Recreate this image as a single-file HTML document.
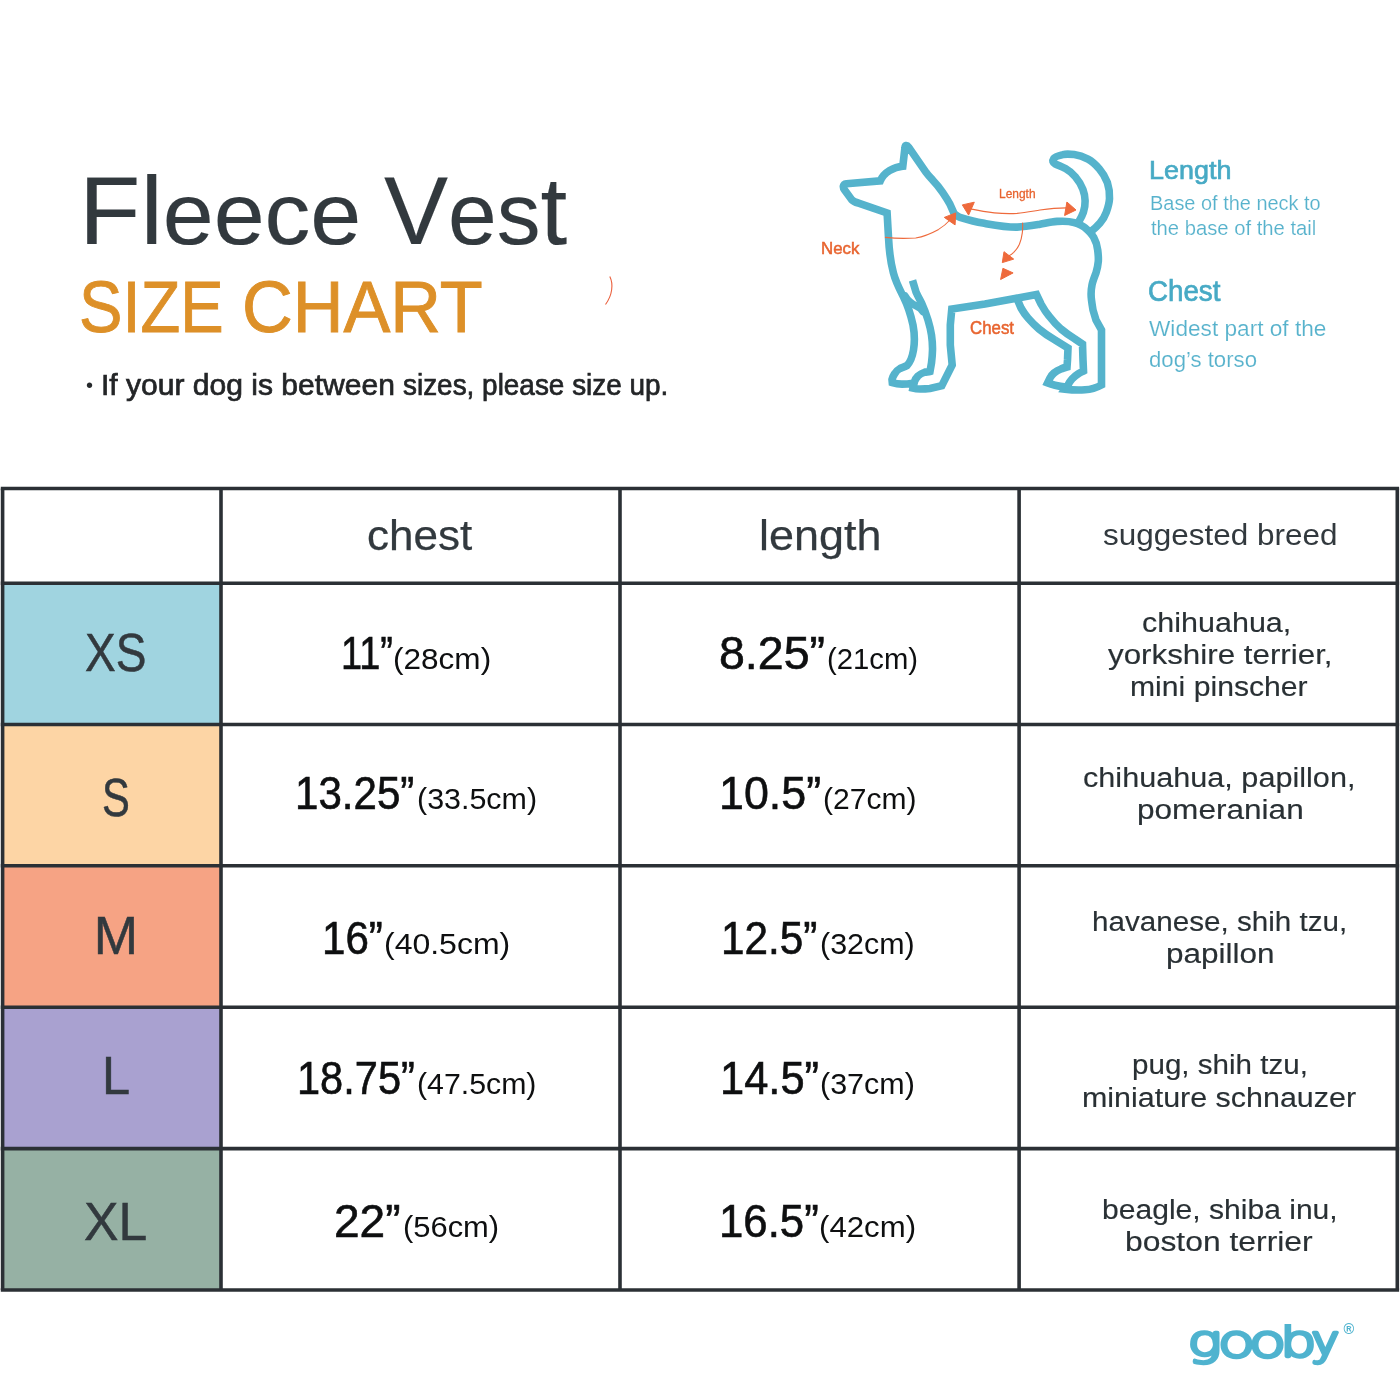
<!DOCTYPE html>
<html lang="en">
<head>
<meta charset="utf-8">
<title>Fleece Vest Size Chart</title>
<style>
html,body{margin:0;padding:0;background:#fff}
body{width:1400px;height:1400px;position:relative;overflow:hidden;font-family:"Liberation Sans",sans-serif;color:#343c41}
.t{position:absolute;display:block;white-space:nowrap;line-height:1;transform-origin:0 0;margin:0;padding:0;font-weight:400}
.t span{line-height:1}
svg{position:absolute;left:0;top:0;overflow:visible}
</style>
</head>
<body>
<svg class="grid" width="1400" height="1400" viewBox="0 0 1400 1400">
<rect x="2.6" y="583.2" width="218.4" height="141.3" fill="#a0d4e0"/>
<rect x="2.6" y="724.5" width="218.4" height="141.3" fill="#fdd5a5"/>
<rect x="2.6" y="865.8" width="218.4" height="141.4" fill="#f6a384"/>
<rect x="2.6" y="1007.2" width="218.4" height="141.4" fill="#a9a1d0"/>
<rect x="2.6" y="1148.6" width="218.4" height="141.4" fill="#96b1a4"/>
<g stroke="#2b3035" stroke-width="3.6">
<line x1="0.8" y1="488.5" x2="1399.1" y2="488.5"/>
<line x1="0.8" y1="583.2" x2="1399.1" y2="583.2"/>
<line x1="0.8" y1="724.5" x2="1399.1" y2="724.5"/>
<line x1="0.8" y1="865.8" x2="1399.1" y2="865.8"/>
<line x1="0.8" y1="1007.2" x2="1399.1" y2="1007.2"/>
<line x1="0.8" y1="1148.6" x2="1399.1" y2="1148.6"/>
<line x1="0.8" y1="1290.0" x2="1399.1" y2="1290.0"/>
<line x1="2.6" y1="488.5" x2="2.6" y2="1290.0"/>
<line x1="221.0" y1="488.5" x2="221.0" y2="1290.0"/>
<line x1="620.0" y1="488.5" x2="620.0" y2="1290.0"/>
<line x1="1019.1" y1="488.5" x2="1019.1" y2="1290.0"/>
<line x1="1397.3" y1="488.5" x2="1397.3" y2="1290.0"/>
</g></svg>
<svg class="dog" width="1400" height="1400" viewBox="0 0 1400 1400" role="img" aria-label="Dog measuring diagram">
<g fill="none" stroke="#55b3cc" stroke-width="7.6" stroke-linejoin="miter" stroke-linecap="butt" stroke-miterlimit="4">
<path d="M913,383.2 C909,383.8 906,384.1 902,384.1 C899,384.1 895.5,383.6 892.3,382.6 L892,379.5 C892.3,378 893,376.2 894.5,374 C895.8,371.8 897.5,369.8 900,368.5 C902,367.6 904.5,367.2 907,365.5 C910,362.5 912.5,356 913.5,350 C915,341 914.5,333 913,325 C911,316 908,306 904,298 C901,292 896,283 893.4,272.9 C890.5,262 889,248 888.5,237.4 L887.1,212.9 L858.6,203.1 C856,202.4 853.5,201.8 851.7,199.7 L844.6,190 C842.8,187.5 842.5,184.2 846.5,183.7 L880.3,180.9 C884,172 894,167 902.8,166.3 L904.9,148.2 C905,145 906.8,144.6 908.6,147.2 L926,172.3 C928,175 930.5,177.7 932.9,180.3 C936.5,184 940,188.5 942.6,192.3 C945.5,196.5 948,200.5 950,204.3 L954,213.4 C956,215 958,216.8 960,217.4 C967,219.5 975,221.8 982.9,223.1 C994,225 1006,227.3 1017.1,227.1 C1025,227 1033,225.5 1040,224.3 C1046,223.2 1051,221.8 1057.1,221.4 C1063,221 1069,221 1074.3,222.6 C1079,224 1083,225.8 1085.7,228.3 C1089.5,231.5 1092,234 1093.7,237.4 C1096,241.5 1097.2,245.5 1097.7,250 C1098.2,254 1098.6,257.5 1098.3,261.4 C1098,265 1097.2,269 1096,272.9 C1094.5,277 1092.8,281 1092,285 C1091,290 1090.8,295 1091.5,300 C1092,304 1092.5,307 1093,310 L1096,320 L1101.5,330 L1101.5,385 C1096,388 1090,389.5 1085,389.8 C1079,390.2 1072,390 1065,389.2 L1068,385 C1069,383 1070.4,380.8 1072,379 C1073.8,377 1075.8,375.4 1078,374 C1079.8,372.8 1081.5,372 1083.5,371 L1083,360 L1082.5,344 L1075,339 C1070,336 1065.5,332.8 1061,329 C1056.5,325 1052.5,320.5 1049,316 C1046,312.5 1043.5,308.5 1041,304 L1036.5,294.5 L1015,298.5 L985,304 L951.8,309 L950.3,325 L950.3,345 L952.2,365 L941.8,385.8 L930,388.5 C926.5,388.9 923.5,389 920,389 C917.5,389 915.5,388.9 913,388.2 L914.5,381.5 C915.2,379.5 916.4,377.6 918,376 C919.6,374.6 921.5,373.3 924,372.5 C926,371.8 928,372 930,371.5 L931.5,363 C932,359 932.4,354.5 932.5,350 C932.6,345 932.2,340 931.5,335 C930.8,330 929.5,325 928,320 C926.3,314.5 924.3,309 922,304 C920,300 918,296.5 916,292 L912.5,280.3"/>
<path stroke-linecap="round" d="M905,296 C908.5,302.5 913.5,304.8 917,306.3 C919.8,307.6 921.5,309 923,311.5"/>
<path d="M1016.5,297.5 L1021,308 C1023,311.5 1025.3,315 1028,318 C1031.3,321.8 1035,325.6 1039,329 C1044,333.2 1049.5,336.8 1055,340 L1068,348 L1067.5,360 L1067,367 C1065,367.5 1063,368 1061,369 C1058.2,370 1056,371.3 1054,373 C1052.2,374.5 1051,376.2 1050,378 L1047.6,383 C1050.3,384 1052.5,384.6 1055,385.2 C1058.3,386 1061.5,386.6 1066,387"/>
<path stroke-linejoin="round" d="M1091.4,231.1 C1095,228.5 1097.5,226 1100,223.1 C1103,219.5 1105,216 1106.3,212.3 C1108,207.5 1109.3,203 1109.5,198.6 C1109.8,193 1109,187.5 1107.4,182.6 C1105.5,177.5 1103,173 1099.4,168.9 C1096,165 1092.5,161.5 1088,159.1 C1084,157 1079,155.2 1074.3,154.6 C1070,154 1066,153.8 1062.9,154.6 C1059,155.5 1055,156.5 1053.7,158.6 C1052,161 1053,162.8 1054.9,163.7 C1058,165.2 1062,166.8 1065.1,168.3 C1069,170.5 1072.5,173.5 1075.4,176.9 C1078.5,180.5 1081.2,185 1082.9,189.4 C1084.3,193 1085,197 1085.1,200.9 C1085.2,205 1084.6,208.7 1083.4,212.3 C1082.3,215.5 1080.7,218.5 1078.9,221.4"/>
</g>
<g fill="none" stroke="#ee6a3c" stroke-width="1.1" stroke-linecap="round">
<path d="M885.4,237.4 C896,238.6 906,238.6 915.7,238 C924,236.5 931.5,233.3 938.6,229.4 C943.5,226.5 947.5,222.8 951,219"/>
<path d="M970.3,208.9 C978,210.5 986,212 994.3,212.9 C1002,213.6 1009.5,213.8 1017.1,213.4 C1025,212.7 1032.5,211.2 1040,210 C1049,208.8 1057.5,208 1066.3,207.9"/>
<path d="M1022.6,223.1 C1022.8,226.5 1022.7,229.7 1022.3,232.9 C1021.8,237 1020.8,240.8 1019.4,244.3 C1018,247.5 1016,250 1013.7,252.3 C1012.3,253.6 1010.8,254.8 1009.1,255.7"/>
</g>
<g fill="#ee6a3c" stroke="#ee6a3c" stroke-width="1" stroke-linejoin="round">
<path d="M944.3,217.4 L955.7,212.9 L955.1,224.9 Z"/>
<path d="M962.3,204.9 L974.3,202.2 L968.6,215.1 Z"/>
<path d="M1066.9,202 L1076,210 L1064.6,215.5 Z"/>
<path d="M1004,251.7 L1013.7,259.1 L1002.3,262.6 Z"/>
<path d="M1002.9,268.3 L1013.1,272.9 L1000.6,279.5 Z"/>
</g>
<path d="M609.8,276.5 C613.5,284 612.5,295 605.5,304.5" fill="none" stroke="#ea5f3c" stroke-width="1.1"/>
</svg>
<div class="t" id="title1" style="left:78.51px;top:163.55px;font-size:95.5px;color:#32393e;transform:scaleX(1.0524);-webkit-text-stroke:0.15px #32393e">Fl<span style="font-size:87px">eece</span></div>
<div class="t" id="title2" style="left:383.98px;top:163.55px;font-size:95.5px;color:#32393e;transform:scaleX(1.0059);-webkit-text-stroke:0.15px #32393e">V<span style="font-size:87px">es</span>t</div>
<div class="t" id="sub1" style="left:79.01px;top:270.90px;font-size:72.4px;color:#dd9028;transform:scaleX(0.8996);-webkit-text-stroke:0.9px #dd9028">SIZE</div>
<div class="t" id="sub2" style="left:242.23px;top:270.90px;font-size:72.4px;color:#dd9028;transform:scaleX(0.9705);-webkit-text-stroke:0.9px #dd9028">CHART</div>
<div class="t" id="note1" style="left:101.13px;top:370.10px;font-size:29.6px;color:#232527;transform:scaleX(1.0151);-webkit-text-stroke:0.7px #232527">If your dog is between</div>
<div class="t" id="note2" style="left:403.13px;top:370.10px;font-size:29.6px;color:#232527;transform:scaleX(0.9433);-webkit-text-stroke:0.7px #232527">sizes, please size up.</div>
<div class="t" id="hLen" style="left:1149.39px;top:157.40px;font-size:26px;color:#47aac5;transform:scaleX(1.0356);-webkit-text-stroke:0.7px #47aac5">Length</div>
<div class="t" id="dLen1" style="left:1149.93px;top:192.90px;font-size:20px;color:#57b2cc;transform:scaleX(0.9968);-webkit-text-stroke:0.15px #fff">Base of the neck to</div>
<div class="t" id="dLen2" style="left:1150.92px;top:218.00px;font-size:20px;color:#57b2cc;transform:scaleX(1.0113);-webkit-text-stroke:0.15px #fff">the base of the tail</div>
<div class="t" id="hCh" style="left:1148.27px;top:276.60px;font-size:28.6px;color:#47aac5;transform:scaleX(0.9698);-webkit-text-stroke:0.7px #47aac5">Chest</div>
<div class="t" id="dCh1" style="left:1149.12px;top:317.70px;font-size:21.6px;color:#57b2cc;transform:scaleX(1.0481);-webkit-text-stroke:0.15px #fff">Widest part of the</div>
<div class="t" id="dCh2" style="left:1149.12px;top:349.30px;font-size:21.6px;color:#57b2cc;transform:scaleX(1.0259);-webkit-text-stroke:0.15px #fff">dog’s torso</div>
<div class="t" id="lNeck" style="left:820.66px;top:239.90px;font-size:17px;color:#e8642f;transform:scaleX(0.9914);-webkit-text-stroke:0.5px #e8642f">Neck</div>
<div class="t" id="lLen" style="left:999.39px;top:188.45px;font-size:12.5px;color:#e8642f;transform:scaleX(0.9553);-webkit-text-stroke:0.3px #e8642f">Length</div>
<div class="t" id="lCh" style="left:969.94px;top:320.35px;font-size:17.5px;color:#e8642f;transform:scaleX(0.9622);-webkit-text-stroke:0.5px #e8642f">Chest</div>
<div class="t" id="thC" style="left:366.60px;top:514.20px;font-size:43px;color:#32393e;transform:scaleX(1.0247);-webkit-text-stroke:0.25px #32393e">chest</div>
<div class="t" id="thL" style="left:759.44px;top:514.20px;font-size:43px;color:#32393e;transform:scaleX(1.0450);-webkit-text-stroke:0.25px #32393e">length</div>
<div class="t" id="thB" style="left:1102.70px;top:521.10px;font-size:29.2px;color:#32393e;transform:scaleX(1.0781)">suggested breed</div>
<div class="t" id="sXS" style="left:85.15px;top:626.40px;font-size:53.2px;color:#32393e;transform:scaleX(0.8655);-webkit-text-stroke:0.5px #32393e">XS</div>
<div class="t" id="sS" style="left:101.63px;top:771.10px;font-size:53.2px;color:#32393e;transform:scaleX(0.7846);-webkit-text-stroke:0.5px #32393e">S</div>
<div class="t" id="sM" style="left:93.75px;top:908.60px;font-size:53.2px;color:#32393e;transform:scaleX(1.0000);-webkit-text-stroke:0.5px #32393e">M</div>
<div class="t" id="sL" style="left:101.93px;top:1048.90px;font-size:53.2px;color:#32393e;transform:scaleX(0.9510);-webkit-text-stroke:0.5px #32393e">L</div>
<div class="t" id="sXL" style="left:84.27px;top:1194.90px;font-size:53.2px;color:#32393e;transform:scaleX(0.9718);-webkit-text-stroke:0.5px #32393e">XL</div>
<div class="t" id="c1a" style="left:340.75px;top:631.15px;font-size:45.5px;color:#0e0f10;transform:scaleX(0.8329);-webkit-text-stroke:0.6px #0e0f10">11”</div>
<div class="t" id="c1b" style="left:393.36px;top:643.80px;font-size:30.2px;color:#0e0f10;transform:scaleX(1.0449)">(28cm)</div>
<div class="t" id="c2a" style="left:295.10px;top:770.75px;font-size:45.5px;color:#0e0f10;transform:scaleX(0.9246);-webkit-text-stroke:0.6px #0e0f10">13.25”</div>
<div class="t" id="c2b" style="left:416.99px;top:784.40px;font-size:30.2px;color:#0e0f10;transform:scaleX(1.0081)">(33.5cm)</div>
<div class="t" id="c3a" style="left:321.90px;top:915.75px;font-size:45.5px;color:#0e0f10;transform:scaleX(0.9259);-webkit-text-stroke:0.6px #0e0f10">16”</div>
<div class="t" id="c3b" style="left:383.94px;top:929.40px;font-size:30.2px;color:#0e0f10;transform:scaleX(1.0594)">(40.5cm)</div>
<div class="t" id="c4a" style="left:296.53px;top:1055.75px;font-size:45.5px;color:#0e0f10;transform:scaleX(0.9134);-webkit-text-stroke:0.6px #0e0f10">18.75”</div>
<div class="t" id="c4b" style="left:416.60px;top:1069.40px;font-size:30.2px;color:#0e0f10;transform:scaleX(1.0030)">(47.5cm)</div>
<div class="t" id="c5a" style="left:333.88px;top:1198.75px;font-size:45.5px;color:#0e0f10;transform:scaleX(1.0125);-webkit-text-stroke:0.6px #0e0f10">22”</div>
<div class="t" id="c5b" style="left:402.98px;top:1212.40px;font-size:30.2px;color:#0e0f10;transform:scaleX(1.0232)">(56cm)</div>
<div class="t" id="l1a" style="left:719.28px;top:631.15px;font-size:45.5px;color:#0e0f10;transform:scaleX(1.0220);-webkit-text-stroke:0.6px #0e0f10">8.25”</div>
<div class="t" id="l1b" style="left:827.03px;top:643.80px;font-size:30.2px;color:#0e0f10;transform:scaleX(0.9688)">(21cm)</div>
<div class="t" id="l2a" style="left:719.34px;top:770.75px;font-size:45.5px;color:#0e0f10;transform:scaleX(0.9845);-webkit-text-stroke:0.6px #0e0f10">10.5”</div>
<div class="t" id="l2b" style="left:822.61px;top:784.40px;font-size:30.2px;color:#0e0f10;transform:scaleX(0.9949)">(27cm)</div>
<div class="t" id="l3a" style="left:721.09px;top:915.75px;font-size:45.5px;color:#0e0f10;transform:scaleX(0.9286);-webkit-text-stroke:0.6px #0e0f10">12.5”</div>
<div class="t" id="l3b" style="left:819.89px;top:929.40px;font-size:30.2px;color:#0e0f10;transform:scaleX(1.0079)">(32cm)</div>
<div class="t" id="l4a" style="left:720.32px;top:1055.75px;font-size:45.5px;color:#0e0f10;transform:scaleX(0.9555);-webkit-text-stroke:0.6px #0e0f10">14.5”</div>
<div class="t" id="l4b" style="left:819.89px;top:1069.40px;font-size:30.2px;color:#0e0f10;transform:scaleX(1.0101)">(37cm)</div>
<div class="t" id="l5a" style="left:718.80px;top:1198.75px;font-size:45.5px;color:#0e0f10;transform:scaleX(0.9615);-webkit-text-stroke:0.6px #0e0f10">16.5”</div>
<div class="t" id="l5b" style="left:818.97px;top:1212.40px;font-size:30.2px;color:#0e0f10;transform:scaleX(1.0330)">(42cm)</div>
<div class="t" id="b1a" style="left:1142.10px;top:608.00px;font-size:28.2px;color:#293034;transform:scaleX(1.0825);-webkit-text-stroke:0.15px #293034">chihuahua,</div>
<div class="t" id="b1b" style="left:1108.08px;top:639.70px;font-size:28.2px;color:#293034;transform:scaleX(1.1114);-webkit-text-stroke:0.15px #293034">yorkshire terrier,</div>
<div class="t" id="b1c" style="left:1130.21px;top:672.00px;font-size:28.2px;color:#293034;transform:scaleX(1.0697);-webkit-text-stroke:0.15px #293034">mini pinscher</div>
<div class="t" id="b2a" style="left:1083.20px;top:762.90px;font-size:28.2px;color:#293034;transform:scaleX(1.0864);-webkit-text-stroke:0.15px #293034">chihuahua, papillon,</div>
<div class="t" id="b2b" style="left:1136.76px;top:795.20px;font-size:28.2px;color:#293034;transform:scaleX(1.1200);-webkit-text-stroke:0.15px #293034">pomeranian</div>
<div class="t" id="b3a" style="left:1092.43px;top:906.70px;font-size:28.2px;color:#293034;transform:scaleX(1.0508);-webkit-text-stroke:0.15px #293034">havanese, shih tzu,</div>
<div class="t" id="b3b" style="left:1165.87px;top:939.20px;font-size:28.2px;color:#293034;transform:scaleX(1.1168);-webkit-text-stroke:0.15px #293034">papillon</div>
<div class="t" id="b4a" style="left:1132.13px;top:1050.20px;font-size:28.2px;color:#293034;transform:scaleX(1.0492);-webkit-text-stroke:0.15px #293034">pug, shih tzu,</div>
<div class="t" id="b4b" style="left:1081.90px;top:1083.10px;font-size:28.2px;color:#293034;transform:scaleX(1.0797);-webkit-text-stroke:0.15px #293034">miniature schnauzer</div>
<div class="t" id="b5a" style="left:1102.21px;top:1194.60px;font-size:28.2px;color:#293034;transform:scaleX(1.0665);-webkit-text-stroke:0.15px #293034">beagle, shiba inu,</div>
<div class="t" id="b5b" style="left:1125.45px;top:1227.10px;font-size:28.2px;color:#293034;transform:scaleX(1.1302);-webkit-text-stroke:0.15px #293034">boston terrier</div>
<div class="t" id="bul" style="left:86px;top:374.75px;font-size:20px;color:#26292c">•</div>
<div id="brand" style="position:absolute;left:1180px;top:1323.6px;width:200px;height:60px;overflow:hidden"><div class="t" id="logo" style="left:8.2px;top:-6.8px;font-family:NanumGothic,'Liberation Sans',sans-serif;font-size:47px;letter-spacing:-3px;color:#4fb3cf;-webkit-text-stroke:2.3px #4fb3cf;transform:scaleX(1.215)">gooby</div></div><div class="t" id="reg" style="left:1343.4px;top:1321.8px;font-size:14.5px;font-weight:700;color:#4fb3cf">®</div>
</body>
</html>
